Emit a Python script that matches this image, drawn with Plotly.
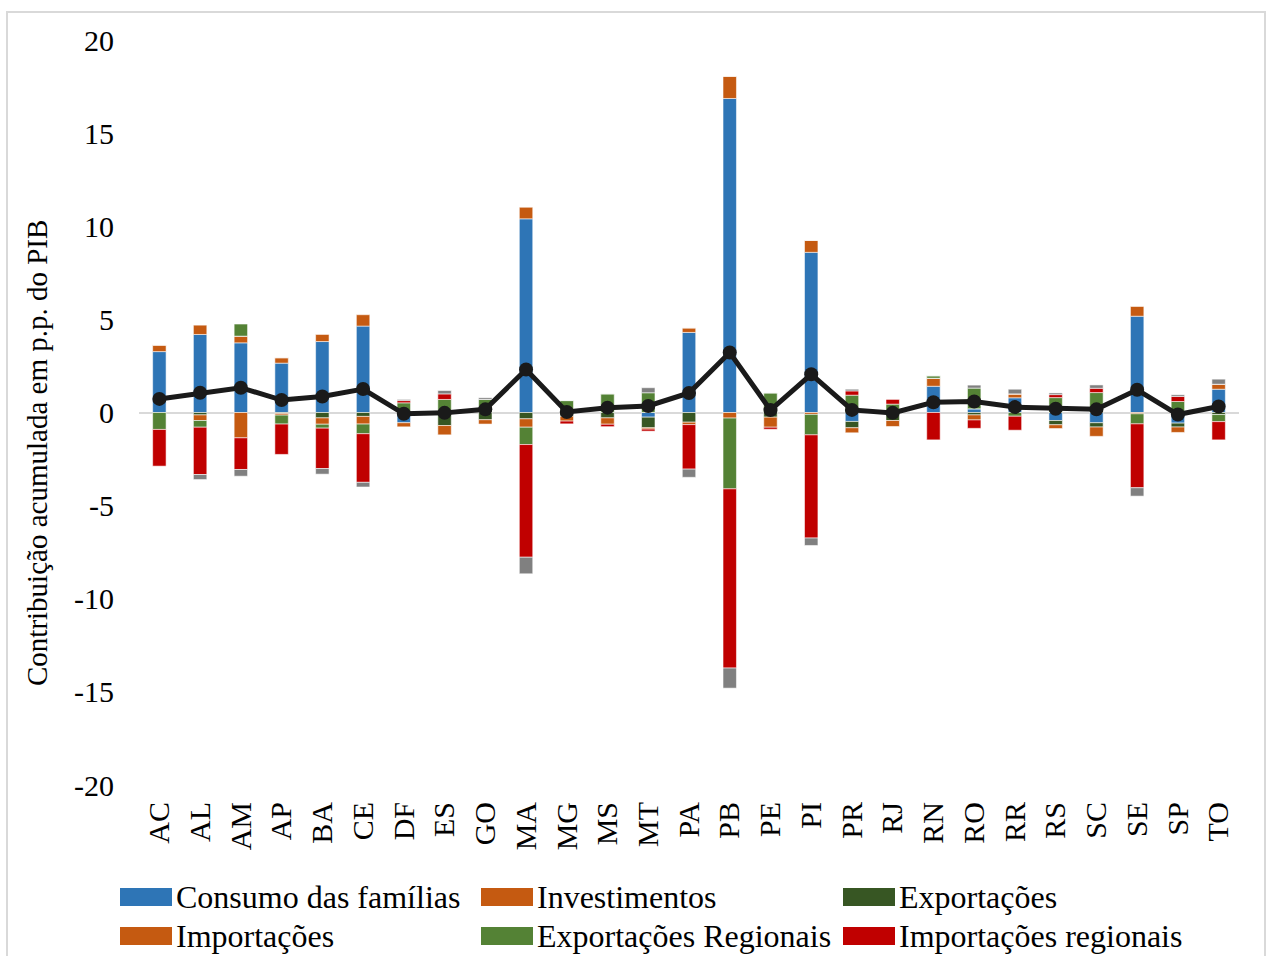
import plotly.graph_objects as go

# Contribuição acumulada por componente da demanda (p.p. do PIB), por UF
ufs = ["AC", "AL", "AM", "AP", "BA", "CE", "DF", "ES", "GO", "MA", "MG", "MS", "MT",
       "PA", "PB", "PE", "PI", "PR", "RJ", "RN", "RO", "RR", "RS", "SC", "SE", "SP", "TO"]

consumo_familias = [3.27, 4.19, 3.74, 2.65, 3.81, 4.64, -0.55, 0, 0, 10.4, 0, 0, -0.25,
                    4.30, 16.86, 0, 8.6, -0.48, 0, 1.41, 0.2, 0.79, -0.43, -0.55, 5.17, -0.57, 1.25]
investimentos = [0.36, 0.5, 0.36, 0.29, 0.38, 0.61, 0, 0, 0, 0.62, 0, 0, 0,
                 0.24, 1.19, 0, 0.64, 0, 0, 0.43, 0, 0.21, 0, 0, 0.54, 0, 0.27]
exportacoes = [0, -0.13, 0, -0.05, -0.29, -0.21, 0, -0.7, -0.39, -0.34, -0.2, -0.29, -0.57,
               -0.52, 0, -0.25, 0, -0.34, -0.43, 0, -0.13, 0, -0.23, -0.23, 0, -0.21, -0.11]
importacoes = [0, -0.3, -1.36, -0.09, -0.34, -0.41, -0.22, -0.5, -0.23, -0.45, -0.26, -0.34, -0.07,
               -0.13, -0.3, -0.54, -0.1, -0.27, -0.32, 0, -0.27, 0, -0.2, -0.5, -0.07, -0.29, 0]
exportacoes_regionais = [-0.91, -0.36, 0.65, -0.48, -0.21, -0.52, 0.52, 0.7, 0.7, -0.93, 0.64, 1.0, 1.06,
                         0, -3.8, 1.05, -1.1, 0.93, 0.45, 0.13, 1.11, -0.2, 0.8, 1.07, -0.54, 0.59, -0.38]
importacoes_regionais = [-1.97, -2.54, -1.7, -1.63, -2.17, -2.61, 0.12, 0.3, 0, -6.05, -0.15, -0.13, -0.11,
                         -2.39, -9.62, -0.11, -5.54, 0.23, 0.27, -1.47, -0.45, -0.75, 0.16, 0.23, -3.43, 0.27, -0.98]
outros = [0, -0.27, -0.36, 0, -0.3, -0.25, 0.06, 0.18, 0.09, -0.89, 0, 0, 0.27,
          -0.44, -1.08, 0, -0.4, 0.09, 0, 0, 0.16, 0.25, 0.09, 0.18, -0.45, 0.09, 0.27]
total = [0.73, 1.06, 1.33, 0.67, 0.86, 1.26, -0.07, -0.02, 0.17, 2.31, 0.03, 0.26, 0.35,
         1.05, 3.22, 0.13, 2.05, 0.14, -0.02, 0.55, 0.59, 0.29, 0.2, 0.17, 1.22, -0.11, 0.32]

y_ticks = [20, 15, 10, 5, 0, -5, -10, -15, -20]

FONT = "Liberation Serif, Times New Roman, serif"
BLUE = "#2E75B6"
ORANGE = "#C55A11"
DKGREEN = "#375623"
GREEN = "#548235"
RED = "#C00000"
GRAY = "#808080"

series = [
    ("Consumo das famílias", consumo_familias, BLUE),
    ("Investimentos", investimentos, ORANGE),
    ("Exportações", exportacoes, DKGREEN),
    ("Importações", importacoes, ORANGE),
    ("Exportações Regionais", exportacoes_regionais, GREEN),
    ("Importações regionais", importacoes_regionais, RED),
    ("Outros", outros, GRAY),
]

fig = go.Figure()
for name, vals, color in series:
    fig.add_trace(go.Bar(
        x=ufs, y=vals, name=name, showlegend=False,
        marker=dict(color=color, line=dict(color="rgba(255,255,255,0.55)", width=1)),
    ))

fig.add_trace(go.Scatter(
    x=ufs, y=total, mode="lines+markers", name="Total", showlegend=False,
    line=dict(color="#1A1A1A", width=5),
    marker=dict(color="#1A1A1A", size=14),
))

# plot area in pixels: x 139..1239, y 40..785
L, R, T, B = 139, 1239, 40, 785
W, H = R - L, B - T


def px(xp):
    return (xp - L) / W


def py(yp):
    return (B - yp) / H


shapes = []
annotations = []

# outer frame
shapes.append(dict(type="rect", xref="paper", yref="paper",
                   x0=px(7), x1=px(1265), y0=py(12), y1=py(975),
                   line=dict(color="#D9D9D9", width=2), fillcolor="rgba(0,0,0,0)", layer="below"))

# y-axis title
annotations.append(dict(xref="paper", yref="paper", x=px(37), y=py(453),
                        text="Contribuição acumulada em p.p. do PIB", textangle=-90,
                        showarrow=False, xanchor="center", yanchor="middle",
                        font=dict(family=FONT, size=29, color="#000000")))

# legend built from swatches and labels
legend_items = [
    ("Consumo das famílias", BLUE, 120, 897),
    ("Investimentos", ORANGE, 481, 897),
    ("Exportações", DKGREEN, 843, 897),
    ("Importações", ORANGE, 120, 936),
    ("Exportações Regionais", GREEN, 481, 936),
    ("Importações regionais", RED, 843, 936),
]
for label, color, x0, yc in legend_items:
    shapes.append(dict(type="rect", xref="paper", yref="paper",
                       x0=px(x0), x1=px(x0 + 52), y0=py(yc + 9), y1=py(yc - 9),
                       fillcolor=color, line=dict(width=0)))
    annotations.append(dict(xref="paper", yref="paper", x=px(x0 + 54), y=py(yc),
                            text=label, showarrow=False, xanchor="left", yanchor="middle",
                            font=dict(family=FONT, size=32, color="#000000")))

fig.update_layout(
    width=1268, height=956,
    margin=dict(l=L, r=1268 - R, t=T, b=956 - B, autoexpand=False),
    paper_bgcolor="white", plot_bgcolor="white",
    barmode="relative", bargap=0.67,
    font=dict(family=FONT, color="#000000"),
    shapes=shapes, annotations=annotations,
    showlegend=False,
)

fig.update_xaxes(
    type="category", range=[-0.5, len(ufs) - 0.5], tickangle=-90,
    tickfont=dict(family=FONT, size=30, color="#000000"),
    showgrid=False, showline=False, ticks="", ticklabelstandoff=10,
)
fig.update_yaxes(
    range=[-20, 20], tickvals=y_ticks, ticktext=[str(v) for v in y_ticks],
    tickfont=dict(family=FONT, size=30, color="#000000"),
    showgrid=False, showline=False, ticks="", ticklabelstandoff=24,
    zeroline=True, zerolinecolor="#D9D9D9", zerolinewidth=2,
)

fig.write_html("out.html")
